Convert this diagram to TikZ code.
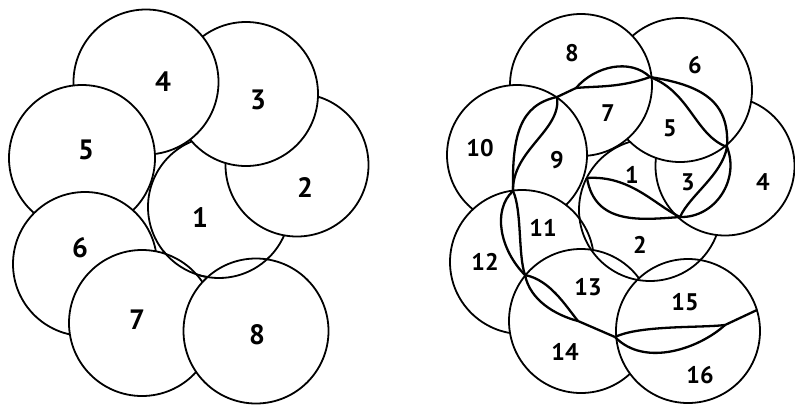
\documentclass[tikz,border=0pt]{standalone}
\usepackage{fontspec}
\setmainfont{PT Sans}
\usetikzlibrary{positioning}

\begin{document}
\begin{tikzpicture}[
    x=1pt, y=-1pt,
    disc/.style={circle, draw, fill=white, line width=1.8pt, minimum size=#1, inner sep=0pt},
    disc/.default=144pt,
    rim/.style={line width=1.8pt},
    lens/.style={line width=2.3pt, line join=round},
    big/.style={font=\fontsize{28}{30}\selectfont\bfseries},
    small/.style={font=\fontsize{24}{26}\selectfont\bfseries}
  ]
    \useasboundingbox[fill=white] (0,0) rectangle (795,405);

    % left: eight discs, each laid over the one before
    \node[disc=142pt] (a1) at (219,207) {};
    \node[disc=143pt] (a2) at (297,165) {};
    \node[disc] (a3) at (246,94) {};
    \node[disc=145pt] (a4) at (146,82) {};
    \node[disc=146pt] (a5) at (82,158) {};
    \node[disc] (a6) at (85,264) {};
    \node[disc=146pt] (a7) at (142,323) {};
    \node[disc=145pt] (a8) at (256,331) {};
    \draw[rim] ([shift={(45:71)}]a1.center) arc[start angle=45, end angle=142, radius=71];

    \node[big] (n1) at (200,218) {1};
    \node[big] (n2) at (305,187) {2};
    \node[big] (n3) at (258,100) {3};
    \node[big] (n4) at (163,82) {4};
    \node[big] (n5) at (86,150) {5};
    \node[big] (n6) at (80,248) {6};
    \node[big] (n7) at (137,320) {7};
    \node[big] (n8) at (257,335) {8};

    % right: the same discs, each one cut in two
    \node[disc=142pt] (b1) at (650,210) {};
    \node[disc=139pt] (b2) at (725,166) {};
    \node[disc] (b3) at (680,90) {};
    \node[disc=142pt] (b4) at (581,85) {};
    \node[disc=140pt] (b5) at (517,155) {};
    \node[disc] (b6) at (522,262) {};
    \node[disc] (b7) at (581,321) {};
    \node[disc] (b8) at (688,331) {};
    \draw[rim] ([shift={(44:71)}]b1.center) arc[start angle=44, end angle=175, radius=71];

    \coordinate (pa) at (557,97);
    \coordinate (pk) at (576,88);
    \coordinate (pb) at (650,77);
    \coordinate (pc) at (727,147);
    \coordinate (pd) at (680,217);
    \coordinate (pq) at (587,178);
    \coordinate (pe) at (513,191);
    \coordinate (pf) at (525,275);
    \coordinate (pm) at (578,321);
    \coordinate (pg) at (615,337);
    \coordinate (pn) at (725,325);
    \coordinate (ph) at (757,310);

    \draw[lens] (pa) -- (pk) .. controls (595,66) and (630,58) .. (pb);
    \draw[lens] (pk) .. controls (595,86) and (620,88) .. (pb);
    \draw[lens] (pb) .. controls (700,85) and (730,100) .. (pc);
    \draw[lens] (pb) .. controls (690,92) and (695,135) .. (pc);
    \draw[lens] (pc) .. controls (740,180) and (715,218) .. (pd);
    \draw[lens] (pc) .. controls (722,175) and (690,195) .. (pd);
    \draw[lens] (pd) .. controls (655,205) and (630,175) .. (pq);
    \draw[lens] (pd) .. controls (640,220) and (595,225) .. (pq);
    \draw[lens] (pa) .. controls (520,105) and (512,135) .. (pe);
    \draw[lens] (pa) .. controls (562,130) and (512,150) .. (pe);
    \draw[lens] (pe) .. controls (492,210) and (500,250) .. (pf);
    \draw[lens] (pe) .. controls (522,210) and (518,255) .. (pf);
    \draw[lens] (pf) .. controls (550,280) and (565,305) .. (pm);
    \draw[lens] (pf) .. controls (530,300) and (555,315) .. (pm) -- (pg);
    \draw[lens] (pg) .. controls (640,325) and (700,328) .. (pn) -- (ph);
    \draw[lens] (pg) .. controls (645,368) and (700,348) .. (pn);

    \node[small] (r1) at (632,175) {1};
    \node[small] (r2) at (640,245) {2};
    \node[small] (r3) at (688,182) {3};
    \node[small] (r4) at (763,182) {4};
    \node[small] (r5) at (670,128) {5};
    \node[small] (r6) at (695,65) {6};
    \node[small] (r7) at (608,113) {7};
    \node[small] (r8) at (572,53) {8};
    \node[small] (r9) at (557,160) {9};
    \node[small] (r10) at (480,148) {10};
    \node[small] (r11) at (543,228) {11};
    \node[small] (r12) at (485,262) {12};
    \node[small] (r13) at (588,287) {13};
    \node[small] (r14) at (565,352) {14};
    \node[small] (r15) at (685,302) {15};
    \node[small] (r16) at (700,375) {16};
  \end{tikzpicture}
\end{document}
